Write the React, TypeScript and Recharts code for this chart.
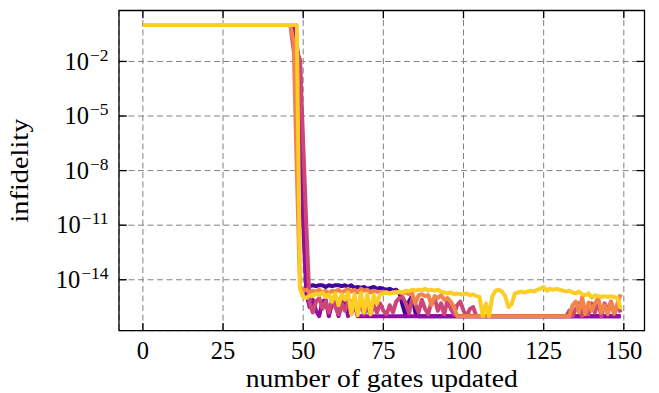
import { LineChart, Line, XAxis, YAxis, CartesianGrid, ReferenceArea } from 'recharts';

// plasma colormap, sampled from dark to light
const seriesColors = ['#41049d', '#8f0da4', '#cc4778', '#f2844b', '#fcce25'];

// [gates updated, log10(infidelity)]
const runA = [
  [0, 0], [47, 0], [48, -1.0], [49, -3.0], [50, -10.0], [51, -14.3],
  [52, -14.35], [53, -14.3], [54, -14.35], [55, -14.3], [56, -14.3], [57, -14.4], [58, -14.3],
  [59, -14.35], [60, -14.3], [61, -14.3], [62, -14.35], [63, -14.3], [64, -14.4], [65, -14.3],
  [66, -14.45], [67, -14.4], [68, -14.45], [69, -14.4], [70, -14.5], [71, -14.45], [72, -14.4],
  [73, -14.5], [74, -14.45], [75, -14.5], [76, -14.55], [77, -14.5], [78, -14.6], [79, -14.55],
  [80, -14.7], [81, -15.4], [82, -16], [83, -15.2], [84, -14.9], [85, -15.8], [86, -16], [149, -16],
];

const runB = [
  [0, 0], [47, 0], [48, -1.4], [49, -2.0], [50, -11.0], [51, -14.8], [52, -15.5], [53, -15.1],
  [54, -15.7], [55, -16], [56, -15.2], [57, -15.1], [58, -16], [59, -15.3], [60, -15.1], [61, -16],
  [62, -15.4], [63, -15.1], [64, -16], [65, -15.2], [66, -15.3], [67, -16], [149, -16],
];

const runC = [
  [0, 0], [46, 0], [47, -1.35], [48, -1.5], [49, -1.9], [50, -6.5], [51, -11.1], [52, -15.3],
  [53, -15.8], [54, -15.2], [55, -15.0], [56, -15.6], [57, -15.2], [58, -15.8], [59, -15.1],
  [60, -15.5], [61, -15.9], [62, -15.3], [63, -15.7], [64, -15.2], [65, -15.9], [66, -15.4],
  [67, -15.8], [68, -15.3], [69, -15.9], [70, -15.5], [71, -15.9], [72, -15.4], [73, -15.8],
  [74, -15.3], [75, -15.7], [76, -15.9], [77, -15.4], [78, -15.8], [79, -15.2], [80, -15.0],
  [81, -14.95], [82, -15.3], [83, -15.85], [84, -15.0], [85, -15.35], [86, -15.8], [87, -15.1],
  [88, -15.6], [89, -15.9], [90, -15.2], [91, -15.0], [92, -15.7], [93, -15.3], [94, -15.9],
  [95, -15.1], [96, -15.6], [97, -15.9], [98, -15.4], [99, -15.2], [100, -15.7], [101, -16],
  [102, -15.6], [103, -15.5], [104, -16], [132, -16], [133, -15.7], [134, -16], [135, -15.6],
  [136, -15.3], [137, -16], [138, -15.5], [139, -15.9], [140, -15.3], [141, -15.8], [142, -15.2],
  [143, -16], [144, -15.3], [145, -15.7], [146, -15.2], [147, -15.9], [148, -15.4], [149, -15.8],
];

const runD = [
  [0, 0], [46, 0], [47, -0.9], [48, -8.0], [49, -14.4], [50, -14.6], [51, -14.55], [52, -14.7],
  [53, -14.6], [54, -14.65], [55, -14.55], [56, -14.7], [57, -14.6], [58, -14.75], [59, -14.6],
  [60, -14.65], [61, -14.55], [62, -14.7], [63, -14.6], [64, -14.5], [65, -14.65], [66, -14.55],
  [67, -14.7], [68, -14.5], [69, -14.6], [70, -14.55], [71, -14.7], [72, -14.6], [73, -14.65],
  [74, -14.7], [75, -14.65], [76, -14.7], [77, -14.75], [78, -14.7], [79, -14.65], [80, -14.7],
  [81, -14.75], [82, -14.7], [83, -14.8], [84, -14.75], [85, -15.3], [86, -14.85], [87, -14.8],
  [88, -14.9], [89, -14.85], [90, -15.4], [91, -14.9], [92, -15.0], [93, -14.85], [94, -15.1],
  [95, -15.0], [96, -15.2], [97, -15.5], [98, -16], [133, -16], [134, -15.4], [135, -15.2],
  [136, -15.8], [137, -14.95], [138, -15.9], [139, -15.25], [140, -15.7], [141, -15.3],
  [142, -15.0], [143, -15.8], [144, -15.4], [145, -15.9], [146, -15.2], [147, -15.85],
  [148, -15.3], [149, -14.8],
];

const runE = [
  [0, 0], [48, 0], [49, -14.5], [50, -14.95], [51, -15.0], [52, -14.85], [53, -14.9], [54, -14.75],
  [55, -14.85], [56, -14.7], [57, -14.95], [58, -14.8], [59, -15.2], [60, -14.75], [61, -15.4],
  [62, -14.8], [63, -15.1], [64, -14.7], [65, -15.9], [66, -14.8], [67, -15.95], [68, -14.7],
  [69, -15.8], [70, -14.8], [71, -15.9], [72, -14.85], [73, -15.3], [74, -14.8], [75, -14.75],
  [76, -14.7], [77, -14.75], [78, -14.7], [79, -14.72], [80, -14.65], [81, -14.7], [82, -14.6],
  [83, -14.62], [84, -14.55], [85, -14.6], [86, -14.55], [87, -14.58], [88, -14.5], [89, -14.6],
  [90, -14.55], [91, -14.6], [92, -14.55], [93, -14.65], [94, -14.7], [95, -14.75], [96, -14.7],
  [97, -14.8], [98, -14.75], [99, -14.8], [100, -14.8], [101, -14.75], [102, -14.85], [103, -14.8],
  [104, -14.9], [105, -14.95], [106, -16.0], [107, -15.3], [108, -16.0], [109, -14.9], [110, -14.6],
  [111, -14.55], [112, -14.65], [113, -14.9], [114, -15.5], [115, -15.35], [116, -14.75],
  [117, -14.7], [118, -14.65], [119, -14.7], [120, -14.65], [121, -14.6], [122, -14.65],
  [123, -14.55], [124, -14.5], [125, -14.4], [126, -14.6], [127, -14.5], [128, -14.55],
  [129, -14.5], [130, -14.55], [131, -14.6], [132, -14.65], [133, -14.6], [134, -14.7],
  [135, -14.75], [136, -14.65], [137, -14.8], [138, -14.85], [139, -14.75], [140, -15.0],
  [141, -14.85], [142, -14.9], [143, -14.95], [144, -14.9], [145, -14.95], [146, -14.9],
  [147, -14.95], [148, -15.0], [149, -15.6],
];

const runs = [runA, runB, runC, runD, runE];

const xMajorTicks = [0, 25, 50, 75, 100, 125, 150];
const xMinorTicks = [-5, 5, 10, 15, 20, 30, 35, 40, 45, 55, 60, 65, 70, 80, 85, 90, 95, 105, 110, 115, 120, 130, 135, 140, 145, 155];
const yTicks = [1e-14, 1e-11, 1e-8, 1e-5, 1e-2];

const W = 659;
const H = 393;
const Y_AXIS_W = 80;
const X_AXIS_H = 40;
// plot box: left 119, top 10.5, right 644.5, bottom 330.7
const margin = { top: 10.5, right: 14.5, bottom: 62.3 - X_AXIS_H, left: 119 - Y_AXIS_W };
const plotTop = margin.top;
const plotRight = W - margin.right;

const xDomain: [number, number] = [-7.45, 156.45];
const yDomain: [number, number] = [10 ** -16.8, 10 ** 0.8];

const FONT = '"Liberation Serif", "Times New Roman", serif';
const TICK_FONT = 24.5;
const MAJOR_LEN = 7.8;
const MINOR_LEN = 3.9;
const SPINE = 1.3;

const toPoints = (pairs: number[][]) => pairs.map(([x, e]) => ({ x, y: 10 ** e }));

function XMajorTick(props: any) {
  const { x, y, payload } = props;
  return (
    <g>
      <line x1={x} x2={x} y1={y} y2={y - MAJOR_LEN} stroke="#000" strokeWidth={SPINE} />
      <line x1={x} x2={x} y1={plotTop} y2={plotTop + MAJOR_LEN} stroke="#000" strokeWidth={SPINE} />
      <text x={x} y={y + 28} textAnchor="middle" fontFamily={FONT} fontSize={TICK_FONT} fill="#000">
        {payload.value}
      </text>
    </g>
  );
}

function XMinorTick(props: any) {
  const { x, y } = props;
  return (
    <g>
      <line x1={x} x2={x} y1={y} y2={y - MINOR_LEN} stroke="#000" strokeWidth={SPINE} />
      <line x1={x} x2={x} y1={plotTop} y2={plotTop + MINOR_LEN} stroke="#000" strokeWidth={SPINE} />
    </g>
  );
}

function YLogTick(props: any) {
  const { x, y, payload } = props;
  const exp = Math.round(Math.log10(payload.value));
  return (
    <g>
      <line x1={x} x2={x + MAJOR_LEN} y1={y} y2={y} stroke="#000" strokeWidth={SPINE} />
      <line x1={plotRight} x2={plotRight - MAJOR_LEN} y1={y} y2={y} stroke="#000" strokeWidth={SPINE} />
      <text x={x - 10.5} y={y + 8.3} textAnchor="end" fontFamily={FONT} fontSize={TICK_FONT} fill="#000">
        10
        <tspan dx={1} dy={-9} fontSize={17.5}>{'\u2212' + Math.abs(exp)}</tspan>
      </text>
    </g>
  );
}

export default function App() {
  return (
    <div style={{ position: 'absolute', left: 0, top: 0, width: W, height: H, background: '#fff' }}>
      <LineChart width={W} height={H} margin={margin}>
        <CartesianGrid stroke="#808080" strokeWidth={1} strokeDasharray="6 3.5" />
        <XAxis
          type="number"
          dataKey="x"
          domain={xDomain}
          allowDataOverflow
          ticks={xMajorTicks}
          interval={0}
          height={X_AXIS_H}
          tickSize={0}
          tickMargin={0}
          axisLine={false}
          tick={(p: any) => <XMajorTick {...p} />}
        />
        <XAxis
          xAxisId="minor"
          type="number"
          dataKey="x"
          domain={xDomain}
          allowDataOverflow
          ticks={xMinorTicks}
          interval={0}
          height={0}
          tickSize={0}
          tickMargin={0}
          axisLine={false}
          tick={(p: any) => <XMinorTick {...p} />}
        />
        <YAxis
          type="number"
          scale="log"
          domain={yDomain}
          allowDataOverflow
          ticks={yTicks}
          interval={0}
          width={Y_AXIS_W}
          tickSize={0}
          tickMargin={0}
          axisLine={false}
          tick={(p: any) => <YLogTick {...p} />}
        />
        {runs.map((run, i) => (
          <Line
            key={i}
            data={toPoints(run)}
            dataKey="y"
            type="linear"
            stroke={seriesColors[i]}
            strokeWidth={4}
            strokeLinejoin="round"
            dot={false}
            activeDot={false}
            isAnimationActive={false}
          />
        ))}
        <ReferenceArea
          x1={xDomain[0]}
          x2={xDomain[1]}
          y1={yDomain[0]}
          y2={yDomain[1]}
          fill="none"
          stroke="#000"
          strokeWidth={SPINE}
          ifOverflow="visible"
        />
      </LineChart>
      <svg width={W} height={H} style={{ position: 'absolute', left: 0, top: 0, pointerEvents: 'none' }}>
        <text
          x={381.75}
          y={386.5}
          textAnchor="middle"
          fontFamily={FONT}
          fontSize={25}
          textLength={272}
          lengthAdjust="spacingAndGlyphs"
          fill="#000"
        >
          number of gates updated
        </text>
        <text
          x={28}
          y={170.6}
          textAnchor="middle"
          fontFamily={FONT}
          fontSize={26}
          textLength={104}
          lengthAdjust="spacingAndGlyphs"
          fill="#000"
          transform="rotate(-90 28 170.6)"
        >
          infidelity
        </text>
      </svg>
    </div>
  );
}
